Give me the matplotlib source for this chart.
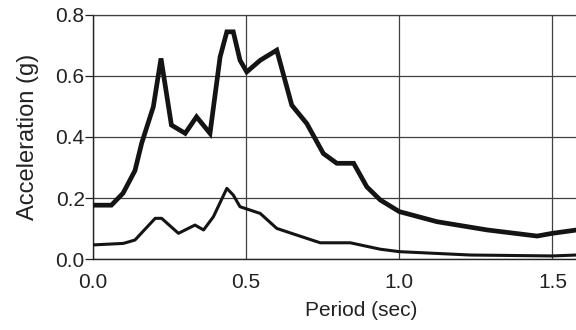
import matplotlib
import numpy as np

matplotlib.use("Agg")
import matplotlib.pyplot as plt

plt.rcParams["font.family"] = ["Liberation Sans", "DejaVu Sans"]

# upper (thick) spectrum
period_hi = [0.0, 0.06, 0.098, 0.137, 0.159, 0.197, 0.222, 0.256, 0.301, 0.338,
             0.382, 0.415, 0.437, 0.458, 0.480, 0.502, 0.546, 0.600, 0.649,
             0.698, 0.752, 0.796, 0.851, 0.894, 0.938, 1.0, 1.123, 1.287,
             1.45, 1.50, 1.58, 1.75]
accel_hi = [0.177, 0.177, 0.216, 0.29, 0.38, 0.499, 0.657, 0.439, 0.412, 0.466,
            0.412, 0.662, 0.744, 0.744, 0.651, 0.613, 0.651, 0.684, 0.504,
            0.444, 0.346, 0.314, 0.314, 0.237, 0.194, 0.156, 0.123, 0.096,
            0.076, 0.085, 0.096, 0.11]

# lower (thin) spectrum
period_lo = [0.0, 0.099, 0.137, 0.203, 0.224, 0.279, 0.333, 0.361, 0.393,
             0.437, 0.458, 0.480, 0.546, 0.600, 0.666, 0.742, 0.840, 0.938,
             1.0, 1.232, 1.5, 1.58, 1.75]
accel_lo = [0.047, 0.052, 0.063, 0.134, 0.134, 0.085, 0.112, 0.096, 0.139,
            0.232, 0.21, 0.172, 0.150, 0.101, 0.079, 0.054, 0.054, 0.033,
            0.025, 0.014, 0.011, 0.014, 0.014]

x_ticks = [0.0, 0.5, 1.0, 1.5]
y_ticks = [0.0, 0.2, 0.4, 0.6, 0.8]

fig = plt.figure(figsize=(5.76, 3.30), dpi=100)
# axes runs past the right edge of the figure (the original is cropped)
ax = fig.add_axes([93 / 576, 70.7 / 330, 536 / 576, 244.6 / 330])

ax.plot(period_hi, accel_hi, color="#141414", lw=3.4, solid_joinstyle="miter",
        zorder=3)
ax.plot(period_lo, accel_lo, color="#141414", lw=2.2, zorder=3)

ax.set_xlim(0, 1.75)
ax.set_ylim(0, 0.8)
ax.set_xticks(x_ticks)
ax.set_yticks(y_ticks)
ax.set_xticklabels([f"{v:.1f}" for v in x_ticks])
ax.set_yticklabels([f"{v:.1f}" for v in y_ticks])
ax.grid(True, color="#404040", lw=0.9)
ax.set_axisbelow(True)

ax.tick_params(axis="x", length=0, pad=10, labelsize=15, colors="#222222")
ax.tick_params(axis="y", length=6, width=0.9, pad=0, labelsize=15,
               colors="#222222", direction="out")
for side in ["left", "bottom"]:
    ax.spines[side].set_color("#222222")
    ax.spines[side].set_linewidth(1.0)
ax.spines["top"].set_color("#404040")
ax.spines["top"].set_linewidth(0.9)

ax.set_xlabel("Period (sec)", fontsize=15, color="#222222", labelpad=6)
ax.set_ylabel("Acceleration (g)", fontsize=17, color="#222222", labelpad=12)

fig.savefig("out.png", dpi=100)
plt.close(fig)
